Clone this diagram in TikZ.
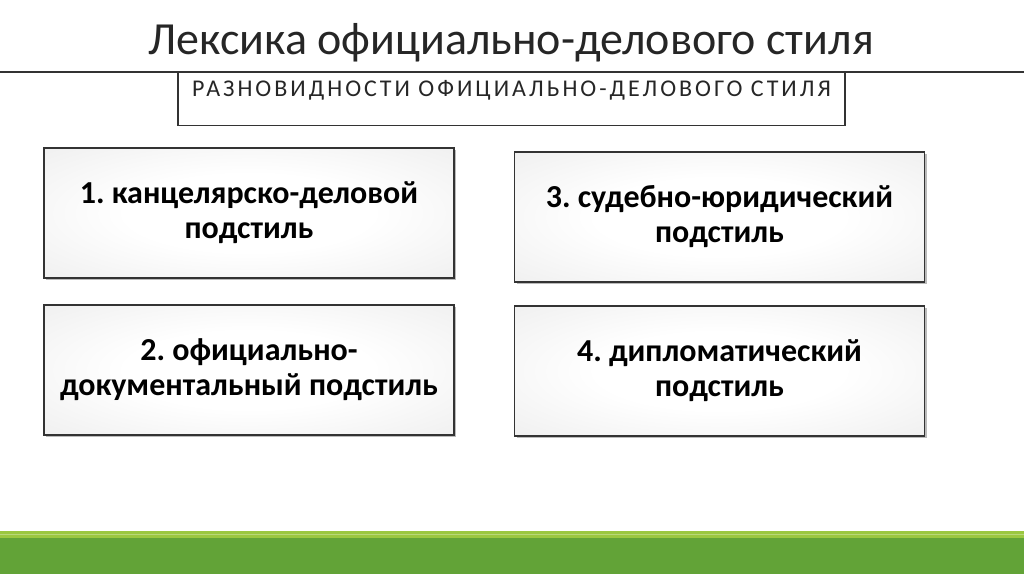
\documentclass[tikz,border=0pt]{standalone}
\usepackage{fontspec}
\setmainfont{Carlito}
\newfontfamily\spacedfont[LetterSpace=12.5]{Carlito}
\usepackage{xcolor}
\usepackage{tikz}
\usetikzlibrary{positioning, shadows}

\definecolor{titlegray}{HTML}{262626}
\definecolor{framegray}{HTML}{333333}
\definecolor{lightgreen}{HTML}{9BC740}
\definecolor{darkgreen}{HTML}{62A337}

\pgfdeclareradialshading{boxglow}{\pgfpoint{0bp}{0bp}}{color(0bp)=(white); color(15bp)=(white); color(50bp)=(black!10); color(71bp)=(black!15)}

\frenchspacing
\begin{document}
\begin{tikzpicture}[
    x=1pt, y=-1pt,
    subbox/.style={rectangle, draw=framegray, line width=1.2pt, minimum width=667pt,
        text height=19.5pt, text depth=25.5pt, inner ysep=4pt, font=\spacedfont\fontsize{24}{28}\selectfont, text=titlegray},
    stylebox/.style={rectangle, draw=framegray, line width=1.3pt, minimum width=410pt, minimum height=130pt,
        shading=boxglow, align=center,
        font=\bfseries\fontsize{32}{35}\selectfont,
        drop shadow={shadow xshift=2pt, shadow yshift=-2pt, opacity=0.45, fill=black!60}},
]
\useasboundingbox (0,0) rectangle (1024,574);
% green band
\fill[darkgreen] (0,538) rectangle (1024,574);
\fill[lightgreen] (0,531) rectangle (1024,538);
\fill[lightgreen!70!white] (0,534) rectangle (1024,535);
% title
\node(title)[anchor=base, text=titlegray, font=\fontsize{46}{52}\selectfont] at (511,54.3) {Лексика официально-делового стиля};
\draw[framegray, line width=1.3pt] (0,72) -- (1024,72);
\node(types)[subbox, anchor=north] at (511.5,72) {РАЗНОВИДНОСТИ ОФИЦИАЛЬНО-ДЕЛОВОГО СТИЛЯ};
% substyles
\node(office)[stylebox] at (249,213) {1. канцелярско-деловой\\подстиль};
\node(legal)[stylebox] at (719.5,217) {3. судебно-юридический\\подстиль};
\node(document)[stylebox] at (249,370) {2. официально-\\документальный подстиль};
\node(diplomatic)[stylebox] at (719.5,371) {4. дипломатический\\подстиль};
\end{tikzpicture}
\end{document}
